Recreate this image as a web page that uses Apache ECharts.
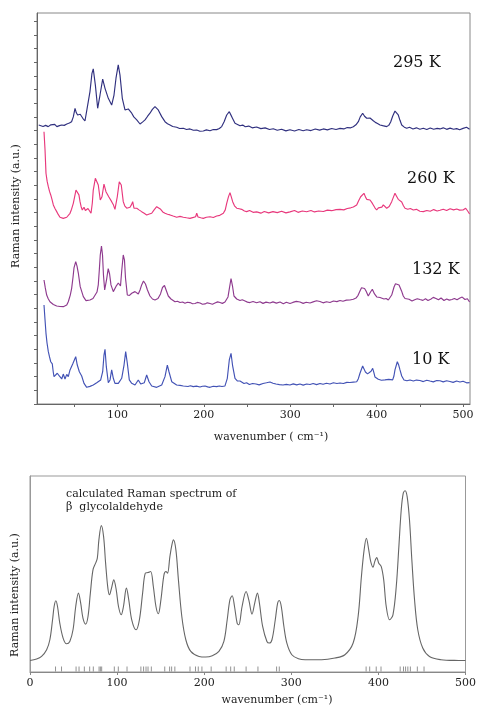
<!DOCTYPE html>
<html>
<head>
<meta charset="utf-8">
<title>Raman spectra of glycolaldehyde</title>
<script src="https://cdn.jsdelivr.net/npm/echarts@6/dist/echarts.min.js"></script>
<style>
  html, body { margin: 0; padding: 0; background: #fff; }
  #chart { width: 479px; height: 706px; }
</style>
</head>
<body>
<div id="chart"></div>
<script>
// measured spectra, offset per temperature: [wavenumber, intensity]
const t295 = [[9,20.41],[14,20.30],[17,20.38],[20,20.29],[23,20.42],[25,20.56],[27.5,20.45],[30,20.29],[33,20.36],[35.5,20.41],[38.5,20.38],[41.5,20.48],[44.5,20.55],[47,20.65],[49,21.0],[51,21.63],[52.5,21.3],[54,21.14],[55.5,21.25],[57,21.19],[60,20.90],[62.5,20.70],[65,21.63],[68.3,22.85],[70.6,24.19],[72.1,24.51],[74.5,23.34],[77.2,21.63],[79.9,22.60],[83,23.77],[85.7,23.09],[89.5,22.36],[93.4,21.87],[96.1,22.60],[98.4,23.83],[101,24.80],[103,24.07],[105.7,22.36],[108.8,21.51],[110.5,21.62],[112.6,21.58],[116.6,21.27],[119,21.0],[122.4,20.78],[126.2,20.48],[129,20.62],[132,20.78],[135,21.05],[137.7,21.27],[140.5,21.55],[143.5,21.75],[145.5,21.62],[147.3,21.51],[151.3,21.02],[155.1,20.65],[158,20.50],[160.9,20.41],[164,20.30],[168.6,20.24],[172,20.15],[176.3,20.17],[180,20.08],[184,20.12],[188,20.02],[191.8,20.04],[195.5,19.95],[199.4,19.97],[203,20.05],[207.2,19.99],[211,20.08],[214.9,20.07],[218,20.15],[220.7,20.29],[223.5,20.65],[226.5,21.14],[229.5,21.38],[232.3,21.02],[236.1,20.53],[239,20.45],[241.9,20.35],[245,20.40],[248,20.28],[252,20.33],[256,20.20],[261,20.26],[266,20.14],[271,20.20],[276,20.08],[280.4,20.13],[285,20.02],[290,20.10],[295,19.98],[299.7,20.06],[305,19.97],[310,20.08],[315,19.99],[319,20.06],[324,20.00],[329,20.12],[334,20.03],[338.3,20.12],[343,20.05],[348,20.15],[353,20.08],[357.6,20.16],[362,20.12],[366,20.22],[370,20.20],[373,20.28],[376,20.42],[378.8,20.65],[381,21.0],[383.8,21.27],[386,21.05],[388.5,20.90],[390.5,20.98],[392.3,20.92],[394,20.80],[396.1,20.72],[398.5,20.60],[401,20.52],[403.9,20.41],[407,20.36],[409,20.45],[411.6,20.29],[414,20.38],[416.2,20.63],[418.5,21.05],[421.2,21.43],[423,21.30],[425,21.14],[427,20.75],[429,20.41],[432,20.25],[434.8,20.17],[438,20.24],[442,20.12],[446,20.20],[450,20.10],[454,20.17],[458,20.08],[462,20.19],[466,20.10],[470,20.16],[473.3,20.12],[477,20.20],[481,20.09],[485,20.18],[489,20.10],[492.6,20.14],[496,20.06],[500,20.16],[504,20.24],[507.5,20.10]];

const t260 = [[15.1,19.92],[16.3,18.58],[17.4,16.88],[18.7,16.3],[20.1,15.90],[21.5,15.55],[22.9,15.29],[24.4,14.95],[25.9,14.56],[27.8,14.30],[29.8,14.07],[31.7,13.85],[33.6,13.66],[35.5,13.52],[37.4,13.58],[39.4,13.50],[41.4,13.66],[43.3,13.72],[45.2,13.95],[47,14.25],[49,14.68],[50.7,15.2],[52.1,15.65],[54.1,15.78],[55.5,15.3],[56.8,14.80],[58,14.45],[59.4,14.19],[61.4,14.39],[63,14.15],[64.5,14.07],[66,14.30],[67.5,14.19],[69.5,13.95],[71,14.7],[72.1,15.65],[74.5,16.51],[76.1,16.63],[77.9,16.02],[80.2,14.92],[82.2,15.16],[84.5,16.09],[86.8,15.53],[90,15.16],[93.4,14.80],[95.5,14.55],[97.2,14.24],[99.9,15.16],[102.2,16.26],[104.5,16.02],[106.8,14.80],[108.5,14.50],[110.8,14.32],[112.5,14.45],[114.6,14.39],[116.5,14.60],[117.7,14.80],[119.2,14.32],[121,14.40],[122.4,14.32],[125,14.20],[128.1,14.07],[131,13.95],[133.9,13.83],[137,13.90],[139.7,13.95],[142.5,14.20],[145.5,14.43],[147.5,14.30],[150.1,14.24],[152.5,14.05],[155.1,13.95],[158,13.88],[160.9,13.83],[164.5,13.75],[168.6,13.66],[172.5,13.72],[176.3,13.66],[180,13.62],[184,13.58],[188,13.65],[190.5,13.70],[191.8,13.95],[193.3,13.68],[196.5,13.62],[199.4,13.58],[203,13.66],[207.2,13.70],[211,13.64],[214.9,13.75],[218.5,13.80],[222.6,13.95],[224.8,14.20],[226.5,14.68],[228.5,15.15],[230.3,15.46],[231.8,15.15],[233.4,14.80],[235.5,14.50],[238.1,14.32],[241,14.28],[243.8,14.24],[247,14.12],[249.6,14.07],[253,14.15],[257,14.02],[261.2,14.05],[266,13.96],[270,14.08],[275,13.98],[280,14.07],[285,14.00],[290,14.10],[295,13.98],[299.7,14.05],[305,14.15],[309,14.02],[314,14.12],[319,14.06],[324,14.15],[328,14.05],[333,14.12],[338.3,14.08],[343,14.18],[348,14.14],[353,14.22],[357.6,14.24],[362,14.20],[366,14.30],[370,14.35],[373,14.41],[376.9,14.56],[379,14.85],[381.5,15.16],[383.5,15.30],[385.3,15.41],[387,15.15],[388.5,14.97],[390.5,15.05],[392.3,14.92],[394.3,14.75],[396.1,14.56],[398,14.35],[400,14.19],[402,14.35],[403.9,14.43],[406,14.40],[407.7,14.56],[409.5,14.42],[411.6,14.32],[414.5,14.45],[417.4,14.80],[419.5,15.15],[421.2,15.41],[423,15.20],[425,14.97],[427,14.85],[429,14.78],[431,14.50],[432.8,14.32],[436,14.25],[439,14.30],[442.4,14.19],[446,14.24],[450,14.10],[454,14.07],[458,14.15],[462,14.10],[466,14.22],[470,14.12],[473.3,14.17],[477,14.25],[481,14.15],[485,14.28],[489,14.20],[492.6,14.26],[496,14.18],[499.9,14.19],[503,14.32],[505.5,14.10],[507.5,13.90]];

const t132 = [[15.1,9.07],[16.6,8.49],[18.2,7.97],[20,7.70],[22,7.48],[25.9,7.28],[29.8,7.17],[33.6,7.13],[37.4,7.12],[41.4,7.24],[43.2,7.48],[45.5,7.97],[47.1,8.46],[48.7,9.29],[49.8,9.95],[51.8,10.42],[53.3,10.09],[54.8,9.58],[57,8.58],[60.6,7.85],[63.7,7.56],[66,7.66],[68.3,7.61],[71.8,7.72],[74.1,7.85],[76.4,8.19],[77.9,8.71],[79.1,9.80],[80.2,10.90],[81.6,11.56],[82.8,10.90],[83.9,9.44],[85.3,8.34],[87.6,9.14],[89.4,9.91],[91,9.51],[92.6,8.71],[95.3,8.22],[98.4,8.60],[101.1,8.85],[103.6,8.63],[105.1,9.80],[106.8,10.90],[108.2,10.53],[109.4,9.22],[111.5,7.97],[114,7.94],[116.6,8.10],[118.5,8.00],[120.4,8.22],[124.2,8.05],[126.2,8.34],[128.1,8.71],[130.2,9.00],[132.5,8.78],[134.8,8.34],[137.7,7.90],[140.6,7.68],[143.5,7.61],[147,7.72],[149.9,8.05],[152.2,8.52],[154.5,8.67],[156.8,8.27],[158.9,7.90],[162,7.68],[166.7,7.48],[169.5,7.52],[172.5,7.42],[175.5,7.46],[178.2,7.37],[181,7.44],[184,7.42],[187,7.33],[189.8,7.35],[192.5,7.43],[195.6,7.39],[198.5,7.30],[201.4,7.32],[204,7.40],[207.2,7.35],[210,7.30],[212.9,7.39],[216,7.47],[218.7,7.42],[221.5,7.36],[224.5,7.46],[226.5,7.60],[228,7.83],[229.7,8.49],[231.5,9.18],[233.2,8.63],[234.9,7.90],[238.1,7.68],[241.9,7.57],[244.5,7.62],[247.7,7.53],[250.5,7.45],[253.4,7.42],[257,7.50],[261,7.41],[265,7.48],[268.5,7.36],[272,7.45],[276.6,7.39],[280,7.47],[284,7.38],[288.2,7.46],[292,7.34],[295.5,7.44],[299.7,7.35],[303,7.43],[307,7.51],[311.3,7.46],[315,7.36],[318.5,7.44],[322.9,7.39],[326.5,7.47],[330.5,7.55],[334.4,7.50],[338,7.40],[342,7.48],[346,7.42],[350,7.53],[354,7.49],[357.6,7.57],[361,7.52],[365,7.60],[369.1,7.61],[373,7.66],[376.1,7.75],[378.5,7.95],[380.7,8.27],[382.5,8.50],[384.5,8.63],[386,8.45],[387.7,8.27],[390.3,7.90],[392.9,8.19],[395,8.39],[397.5,8.05],[400.1,7.83],[402,7.90],[403.9,7.79],[406,7.85],[408.5,7.68],[411,7.72],[413.5,7.61],[415.5,7.75],[417.4,7.97],[420.1,8.56],[421.8,8.80],[423.2,8.87],[425.9,8.71],[428.8,8.27],[430.8,7.90],[432.8,7.72],[434.8,7.61],[437.5,7.66],[440.9,7.53],[444,7.62],[447,7.70],[450.1,7.64],[453.5,7.58],[456.5,7.70],[459.4,7.57],[462.5,7.66],[465.5,7.80],[468.6,7.72],[471.5,7.62],[474.5,7.75],[477.9,7.57],[481,7.68],[484,7.60],[487.1,7.64],[490,7.72],[493,7.62],[496.4,7.75],[499,7.82],[502.2,7.64],[505,7.70],[507.5,7.46]];

const t10 = [[15.1,7.24],[16.3,6.14],[17.4,5.17],[18.6,4.46],[20.1,3.83],[21.5,3.44],[22.9,3.09],[24.7,2.93],[25.8,2.34],[26.7,2.00],[29,1.88],[30.5,2.25],[32.8,2.05],[35.6,1.83],[37.4,2.19],[39.4,1.83],[41.4,2.17],[43.2,2.00],[45.2,2.49],[48.3,2.93],[50.2,3.07],[51.8,3.46],[53.6,2.85],[56,2.36],[58.7,2.05],[61.4,1.51],[64.5,1.22],[68.3,1.29],[72.1,1.39],[76.1,1.56],[80.7,1.76],[83,2.36],[84.5,3.58],[85.7,4.00],[87.2,2.73],[89.5,1.56],[91.5,1.76],[93.4,2.49],[95.3,1.88],[97.2,1.51],[101.1,1.51],[105,1.88],[107.7,2.85],[109.6,3.83],[111.5,2.98],[113.8,1.76],[116.6,1.51],[120.4,1.39],[124.2,1.76],[127,1.46],[131.2,1.56],[133.9,2.12],[136.6,1.63],[139.7,1.32],[145.5,1.22],[151.3,1.39],[155.1,2.00],[157.8,2.85],[159.8,2.34],[162.9,1.63],[168.6,1.39],[172.5,1.36],[176.3,1.32],[181.7,1.28],[184.5,1.34],[187.8,1.27],[191.5,1.31],[195.6,1.24],[198.5,1.30],[201.4,1.32],[204.5,1.25],[207.2,1.22],[211,1.30],[214.9,1.27],[218,1.32],[221,1.28],[224.5,1.32],[227.2,1.88],[229.5,3.22],[231.5,3.71],[233.2,2.85],[236.1,1.88],[239,1.68],[241.9,1.68],[246.5,1.50],[249.5,1.55],[252.7,1.43],[256.5,1.50],[260.4,1.46],[264,1.40],[268.5,1.50],[272.5,1.55],[276.6,1.61],[280,1.52],[283.5,1.46],[287.5,1.42],[291.6,1.39],[295.5,1.44],[299.7,1.39],[303.5,1.47],[307.5,1.40],[311.3,1.46],[315,1.38],[319,1.46],[322.9,1.43],[326.5,1.50],[330.5,1.42],[334.4,1.50],[338,1.44],[342,1.52],[346,1.46],[350,1.55],[354,1.50],[357.6,1.54],[361.5,1.50],[365.5,1.58],[369.1,1.57],[373,1.60],[376.9,1.63],[378.8,1.85],[380.7,2.25],[383.8,2.78],[385.5,2.55],[387,2.34],[389.5,2.20],[391.5,2.12],[393.5,2.40],[395.4,2.61],[396.8,2.30],[398,1.98],[401.9,1.81],[405.5,1.74],[409.6,1.76],[414,1.80],[418.5,1.76],[420,2.05],[421.2,2.49],[423.9,3.09],[425.5,2.85],[427,2.49],[429,2.05],[431.6,1.76],[435,1.70],[438.6,1.76],[442.5,1.68],[446,1.75],[450.1,1.72],[454,1.64],[458,1.74],[461.7,1.68],[465.5,1.62],[469.5,1.72],[473.3,1.70],[477,1.62],[481,1.70],[484.8,1.65],[488.5,1.58],[492.5,1.68],[496.4,1.61],[500,1.66],[504,1.55],[507.5,1.56]];

const tempLabels = ['295 K', '260 K', '132 K', '10 K'];
const tempColors = ['#30307f', '#e8387c', '#8e3a8e', '#4252b5'];

// calculated spectrum: [wavenumber, intensity]
const calc = [[0,5.9],[7.6,6.62],[13.3,7.95],[19.1,11.36],[22.8,16.45],[25.9,26.64],[27.7,33.42],[29.7,36.32],[31.6,33.42],[34.2,24.96],[38,17.32],[41.9,14.42],[45.7,15.59],[49.4,21.55],[52.5,33.42],[55.6,40.24],[58.2,35.15],[60.8,27.51],[63.9,24.45],[66.6,28.32],[69.3,40.24],[72.3,52.11],[75.3,55.53],[77.3,58.07],[79.1,67.4],[81.9,74.68],[84.5,69.08],[86.8,55.53],[89.4,42.79],[91.3,39.38],[93.6,42.79],[96.2,47.02],[99,41.93],[101.6,33.42],[104.7,29.19],[107.3,33.42],[110.7,42.79],[113.4,36.83],[116.8,26.64],[121.8,21.55],[125.6,26.64],[129.3,40.24],[132.4,50.43],[135.5,50.74],[138.5,51.25],[141.6,43.61],[144.6,33.42],[147.3,29.7],[150.3,36.83],[153.8,49.57],[156.1,51.25],[157.9,50.43],[160.6,58.89],[162.9,64.85],[164.7,67.4],[167.5,62.3],[170.4,47.02],[174.3,28.32],[178.9,16.45],[184.6,10.49],[194.1,7.95],[201.7,7.64],[209.3,8.3],[216.9,10.49],[222.6,15.59],[226.4,26.64],[229.5,36.83],[232.1,38.87],[234.8,33.42],[237.8,24.96],[239.7,24.1],[243.5,33.42],[248.1,41.06],[251.2,36.83],[254.9,29.55],[258,35.15],[261.1,40.24],[263.4,35.15],[267.1,23.23],[272,15.59],[274.8,14.77],[277.8,16.45],[281.6,26.64],[284.3,35.15],[286.2,36.47],[288.5,33.42],[291.5,23.23],[294.9,14.77],[300.6,8.81],[308.2,6.78],[315.9,6.27],[334.8,6.27],[350.1,7.13],[361.5,8.81],[371,14.77],[376.7,28.32],[380.5,48.7],[383.6,62.3],[386.2,68.26],[388.9,62.3],[391.2,56.34],[393.9,53.49],[395.8,56.34],[398.1,58.38],[400.4,55.53],[403.3,53.8],[406.1,47.02],[409,33.42],[412.9,26.64],[416.7,29.19],[420.5,43.61],[423.5,63.98],[426.2,82.68],[428.5,91.19],[430.7,92.51],[433,89.46],[435.7,77.59],[438.4,57.21],[441.5,36.83],[445.2,21.55],[450.9,12.23],[458.6,7.95],[471.8,6.27],[487.1,5.91],[500,5.9]];

// calculated mode frequencies (stick marks)
const sticks = [29.3,36.2,52.9,56.3,62.4,68.5,72.7,79.3,80.8,82.3,96.8,101.4,111.4,127.3,130.4,133.2,135.5,139.3,154.7,160.3,162.6,166.3,183.7,190,193.2,197.4,208,225.2,230.4,234.5,248.1,261.7,283.1,286.2,385.9,390,397.5,403,425,428.8,431.2,433.8,436.7,444.7,452.4];

const serif = 'DejaVu Serif';
const chart = echarts.init(document.getElementById('chart'));

const topSeries = [t295, t260, t132, t10].map((d, i) => ({
  name: tempLabels[i],
  type: 'line',
  xAxisIndex: 0,
  yAxisIndex: 0,
  data: d,
  showSymbol: false,
  lineStyle: { color: tempColors[i], width: 1.15 },
  silent: true,
}));

const tickVals = [];
for (let i = 0; i <= 28; i++) tickVals.push(i);

const option = {
  animation: false,
  backgroundColor: '#fff',
  grid: [
    { left: 37, right: 9, top: 13, bottom: 302, show: true, borderColor: '#888', borderWidth: 1 },
    { left: 30, right: 11, top: 476, bottom: 34, show: true, borderColor: '#999', borderWidth: 1 },
  ],
  xAxis: [
    {
      type: 'value', gridIndex: 0, min: 7, max: 508,
      axisLine: { lineStyle: { color: '#666' } },
      axisTick: { customValues: [50, 100, 150, 200, 250, 300, 350, 400, 450, 500], length: 3, lineStyle: { color: '#666' } },
      axisLabel: { customValues: [100, 200, 300, 400, 500], fontFamily: serif, fontSize: 11, color: '#222', margin: 6 },
      splitLine: { show: false },
    },
    {
      type: 'value', gridIndex: 1, min: 0, max: 500, interval: 100,
      axisLine: { lineStyle: { color: '#888' } },
      axisTick: { length: 3, lineStyle: { color: '#888' } },
      axisLabel: { fontFamily: serif, fontSize: 11, color: '#222', margin: 6 },
      splitLine: { show: false },
    },
  ],
  yAxis: [
    {
      type: 'value', gridIndex: 0, min: 0, max: 28.6,
      axisLine: { show: true, lineStyle: { color: '#666' } },
      axisTick: { show: true, customValues: tickVals, length: 3, lineStyle: { color: '#666' } },
      axisLabel: { show: false },
      splitLine: { show: false },
    },
    {
      type: 'value', gridIndex: 1, min: 0, max: 100,
      axisLine: { show: true, lineStyle: { color: '#999' } },
      axisTick: { show: false },
      axisLabel: { show: false },
      splitLine: { show: false },
    },
  ],
  series: topSeries.concat([
    {
      name: 'calculated',
      type: 'line',
      xAxisIndex: 1,
      yAxisIndex: 1,
      data: calc,
      smooth: 0.35,
      showSymbol: false,
      lineStyle: { color: '#666', width: 1.1 },
      silent: true,
    },
    {
      name: 'modes',
      type: 'custom',
      xAxisIndex: 1,
      yAxisIndex: 1,
      data: sticks.map(v => [v, 0]),
      encode: { x: 0, y: 1 },
      silent: true,
      renderItem: (params, api) => {
        const p = api.coord([api.value(0), 0]);
        return {
          type: 'line',
          shape: { x1: p[0], y1: p[1] - 0.5, x2: p[0], y2: p[1] - 5.5 },
          style: { stroke: '#777', lineWidth: 0.8 },
        };
      },
    },
  ]),
  graphic: [
    // temperature labels
    { type: 'text', left: 393, top: 55, style: { text: tempLabels[0], font: '16px "DejaVu Serif"', fill: '#111' } },
    { type: 'text', left: 407, top: 171, style: { text: tempLabels[1], font: '16px "DejaVu Serif"', fill: '#111' } },
    { type: 'text', left: 412, top: 262, style: { text: tempLabels[2], font: '16px "DejaVu Serif"', fill: '#111' } },
    { type: 'text', left: 412, top: 352, style: { text: tempLabels[3], font: '16px "DejaVu Serif"', fill: '#111' } },
    // axis titles
    { type: 'text', x: 16, y: 206, rotation: Math.PI / 2,
      style: { text: 'Raman intensity (a.u.)', font: '11px "DejaVu Serif"', fill: '#222', align: 'center', verticalAlign: 'middle' } },
    { type: 'text', x: 271, y: 437,
      style: { text: 'wavenumber ( cm⁻¹)', font: '11px "DejaVu Serif"', fill: '#222', align: 'center', verticalAlign: 'middle' } },
    { type: 'text', x: 15, y: 595, rotation: Math.PI / 2,
      style: { text: 'Raman intensity (a.u.)', font: '11px "DejaVu Serif"', fill: '#222', align: 'center', verticalAlign: 'middle' } },
    { type: 'text', x: 277, y: 700,
      style: { text: 'wavenumber (cm⁻¹)', font: '11px "DejaVu Serif"', fill: '#222', align: 'center', verticalAlign: 'middle' } },
    // annotation
    { type: 'text', left: 66, top: 488,
      style: { text: 'calculated Raman spectrum of\nβ  glycolaldehyde', font: '11px "DejaVu Serif"', lineHeight: 13, fill: '#222' } },
  ],
};

chart.setOption(option);
</script>
</body>
</html>
